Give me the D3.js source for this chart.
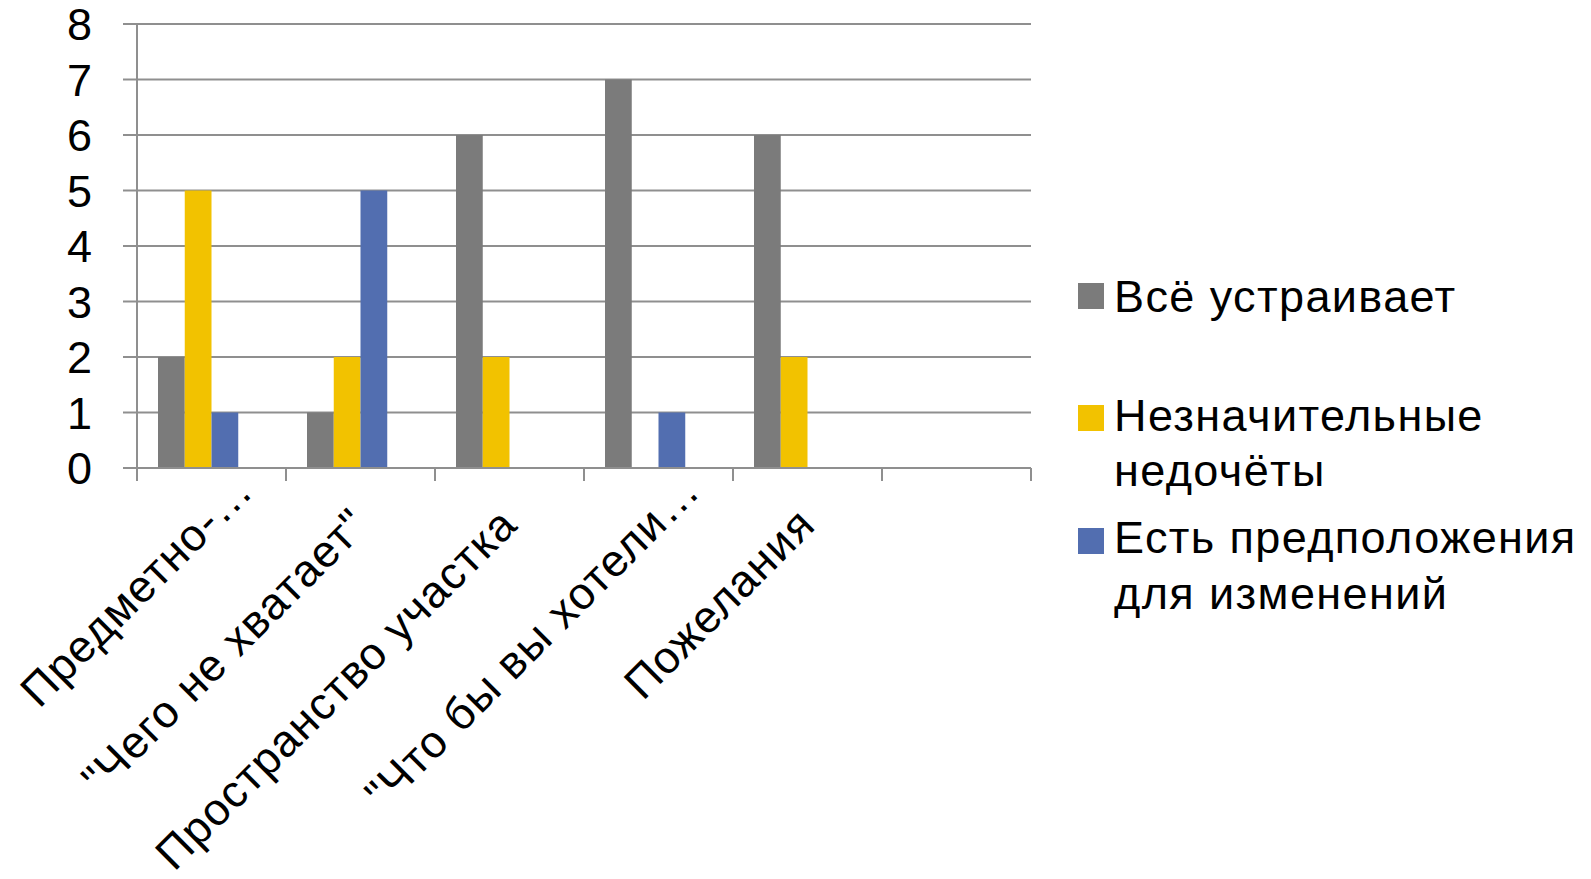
<!DOCTYPE html>
<html>
<head>
<meta charset="utf-8">
<script src="https://cdn.jsdelivr.net/npm/d3@7"></script>
<style>
  html, body { margin: 0; padding: 0; background: #ffffff; }
  svg { display: block; }
  text { font-family: "Liberation Sans", Arial, sans-serif; fill: #000; }
</style>
</head>
<body>
<svg id="chart" width="1591" height="879"></svg>
<script>
// ---- data ----
const categories = ["Предметно-…", "\"Чего не хватает\"", "Пространство участка", "\"Что бы вы хотели…", "Пожелания", ""];
const seriesNames = ["Всё устраивает", "Незначительные недочёты", "Есть предположения для изменений", "extra"];
const legendLines = [["Всё устраивает"], ["Незначительные", "недочёты"], ["Есть предположения", "для изменений"]];
const valuesAll = [2, 1, 6, 7, 6, null];
const valuesMinor = [5, 2, 2, null, 2, null];
const valuesChange = [1, 5, null, 1, null, null];
const valuesExtra = [null, null, null, null, null, null];
const yTicks = [0, 1, 2, 3, 4, 5, 6, 7, 8];
const colors = ["#7b7b7b", "#f2c200", "#526eb0", "#cccccc"];

// ---- layout ----
const svg = d3.select("#chart");
const plot = { left: 137, right: 1031, top: 24, bottom: 468 };
const fs = 45;

const x0 = d3.scaleBand().domain(d3.range(categories.length)).range([plot.left, plot.right]).paddingInner(0).paddingOuter(0);
const x1 = d3.scaleBand().domain(d3.range(seriesNames.length)).range([0, x0.bandwidth()]).paddingInner(0).paddingOuter(0.785);
const y = d3.scaleLinear().domain([0, 8]).range([plot.bottom, plot.top]);

const gridColor = "#8f8f8f";

// gridlines with left tick marks
svg.append("g").selectAll("line").data(yTicks).join("line")
  .attr("x1", plot.left - 14).attr("x2", plot.right)
  .attr("y1", d => y(d)).attr("y2", d => y(d))
  .attr("stroke", gridColor).attr("stroke-width", 2);

// y axis line
svg.append("line").attr("x1", plot.left).attr("x2", plot.left)
  .attr("y1", plot.top).attr("y2", plot.bottom + 13)
  .attr("stroke", gridColor).attr("stroke-width", 2);

// category ticks
const bounds = d3.range(categories.length + 1).map(i => i === categories.length ? plot.right : x0(i));
svg.append("g").selectAll("line").data(bounds).join("line")
  .attr("x1", d => d).attr("x2", d => d)
  .attr("y1", plot.bottom).attr("y2", plot.bottom + 13)
  .attr("stroke", gridColor).attr("stroke-width", 2);

// bars
const seriesValues = [valuesAll, valuesMinor, valuesChange, valuesExtra];
seriesValues.forEach((vals, si) => {
  svg.append("g").selectAll("rect")
    .data(vals.map((v, ci) => ({ v, ci })).filter(d => d.v != null && d.v > 0))
    .join("rect")
    .attr("x", d => x0(d.ci) + x1(si))
    .attr("width", x1.bandwidth())
    .attr("y", d => y(d.v))
    .attr("height", d => y(0) - y(d.v))
    .attr("fill", colors[si]);
});

// redraw zero line over bars
svg.append("line").attr("x1", plot.left - 14).attr("x2", plot.right)
  .attr("y1", y(0)).attr("y2", y(0)).attr("stroke", gridColor).attr("stroke-width", 2);

// y labels
svg.append("g").selectAll("text").data(yTicks).join("text")
  .attr("x", 92).attr("y", d => y(d))
  .attr("dy", "0.36em")
  .attr("text-anchor", "end")
  .attr("font-size", fs)
  .text(d => d);

// category labels rotated -45
svg.append("g").selectAll("text").data(categories).join("text")
  .attr("text-anchor", "end")
  .attr("font-size", fs)
  .attr("letter-spacing", "1.2px")
  .attr("transform", (d, i) => {
    const cx = x0(i) + x0.bandwidth() / 2;
    const truncated = d.endsWith("…");
    const ax = truncated ? cx + 44 : cx + 10;
    const ay = truncated ? 493 : 527;
    return `translate(${ax},${ay}) rotate(-45)`;
  })
  .text(d => d);

// legend
const legendPos = [
  { sq: 283, base: [312] },
  { sq: 405, base: [431, 486] },
  { sq: 528, base: [553, 609] }
];
const lg = svg.append("g");
legendLines.forEach((lines, i) => {
  lg.append("rect").attr("x", 1078).attr("y", legendPos[i].sq)
    .attr("width", 26).attr("height", 26).attr("fill", colors[i]);
  lines.forEach((ln, j) => {
    lg.append("text").attr("x", 1114).attr("y", legendPos[i].base[j])
      .attr("font-size", fs).attr("letter-spacing", "1.4px").text(ln);
  });
});
</script>
</body>
</html>
